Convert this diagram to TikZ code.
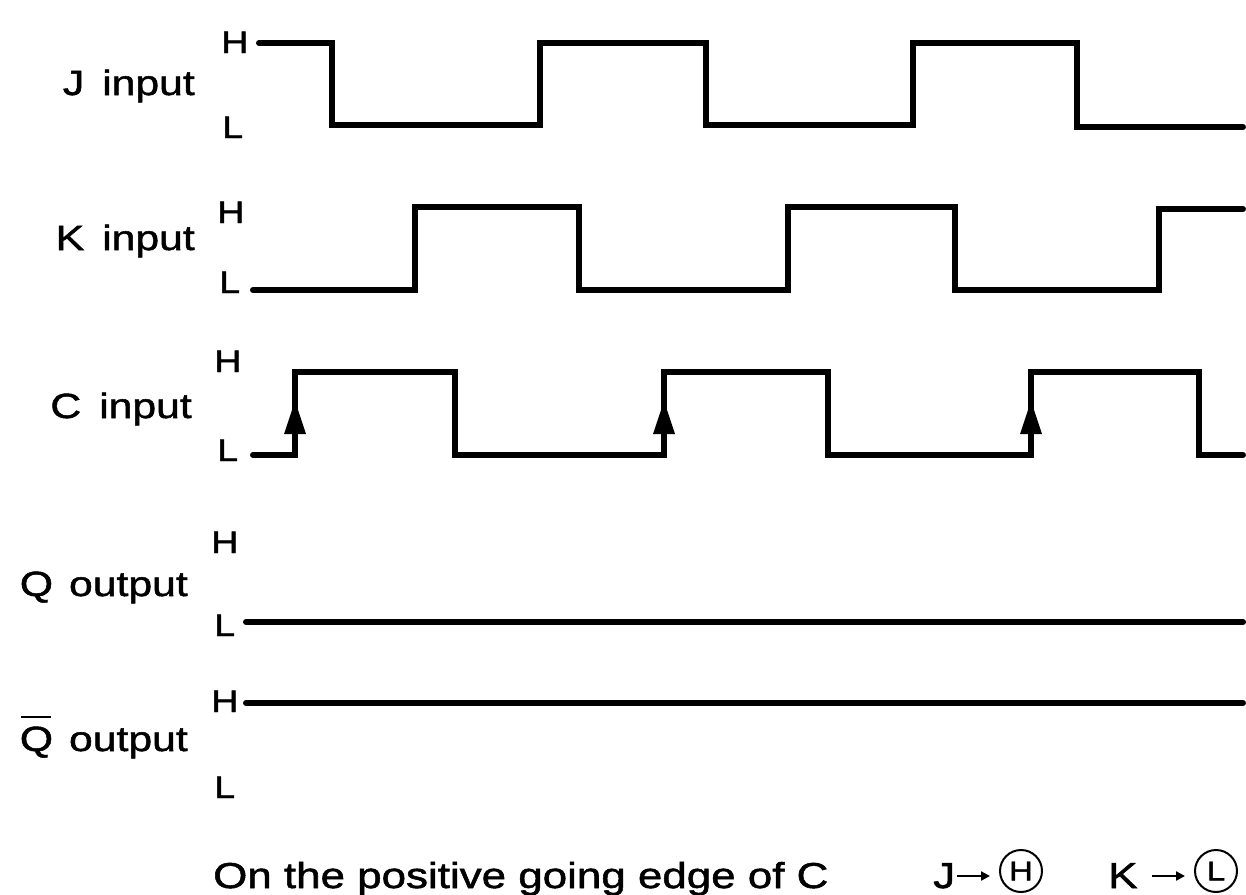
\documentclass[tikz,border=0pt]{standalone}
\usepackage{fontspec}
\setmainfont{Liberation Sans}[FakeStretch=1.22, FakeBold=1.5]
\usetikzlibrary{arrows.meta}
\begin{document}
\begin{tikzpicture}[x=1pt,y=-1pt,
  sig/.style={line width=6pt, line join=miter, line cap=round},
  lbl/.style={font=\fontsize{35}{36}\selectfont, anchor=base east, inner sep=0pt},
  lvl/.style={font=\fontsize{31}{32}\selectfont, anchor=base west, inner sep=0pt},
  edgetip/.style={fill=black},
  circled/.style={circle, draw, line width=2pt, minimum size=42pt, inner sep=0pt, font=\fontsize{27}{28}\selectfont},
  shortarrow/.style={line width=2.6pt, -{Triangle[length=9pt,width=9pt]}}]
\useasboundingbox (0,0) rectangle (1246,894);

% signal labels
\node[lbl] (jlab) at (195,95) {J\hspace{18pt}input};
\node[lbl] (klab) at (195,250) {K\hspace{18pt}input};
\node[lbl] (clab) at (192,418) {C\hspace{18pt}input};
\node[lbl] (qlab) at (188,596) {Q\hspace{16pt}output};
\node[lbl] (qblab) at (188,751) {\makebox[0pt][l]{\hspace{1pt}\rule[33pt]{30pt}{2.5pt}}Q\hspace{16pt}output};

% level labels
\node[lvl] (jh) at (221,53) {H};
\node[lvl] (jl) at (222,138) {L};
\node[lvl] (kh) at (217,223) {H};
\node[lvl] (kl) at (219,293) {L};
\node[lvl] (ch) at (214,372) {H};
\node[lvl] (cl) at (217,461) {L};
\node[lvl] (qh) at (211,553) {H};
\node[lvl] (ql) at (214,636) {L};
\node[lvl] (qbh) at (211,712) {H};
\node[lvl] (qbl) at (214,798) {L};

% J waveform
\draw[sig] (259,43) -- (332,43) -- (332,125) -- (540,125) -- (540,43) -- (706,43) -- (706,125)
  -- (913,125) -- (913,43) -- (1077,43) -- (1077,127) -- (1243,127);
% K waveform
\draw[sig] (253,290) -- (415,290) -- (415,207) -- (579,207) -- (579,290) -- (788,290) -- (788,207)
  -- (955,207) -- (955,290) -- (1159,290) -- (1159,209) -- (1243,209);
% C waveform
\draw[sig] (253,455) -- (295,455) -- (295,372) -- (455,372) -- (455,455) -- (664,455) -- (664,372)
  -- (828,372) -- (828,455) -- (1031,455) -- (1031,372) -- (1199,372) -- (1199,455) -- (1243,455);
% positive-edge arrows
\fill[edgetip] (295,401) -- (284,434) -- (306,434) -- cycle;
\fill[edgetip] (664,401) -- (653,434) -- (675,434) -- cycle;
\fill[edgetip] (1031,401) -- (1020,434) -- (1042,434) -- cycle;
% Q and Q-bar
\draw[sig] (246,622) -- (1243,622);
\draw[sig] (246,703) -- (1243,703);

% bottom note
\node[anchor=base west, inner sep=0pt, font=\fontsize{36}{36}\selectfont] (note) at (213,888) {On the positive going edge of C};
\node[anchor=base west, inner sep=0pt, font=\fontsize{36}{36}\selectfont] (jj) at (933,888) {J};
\coordinate (ja1) at (957,876);
\coordinate (ja2) at (990,876);
\draw[shortarrow] (ja1) -- (ja2);
\node[circled] (hc) at (1021,871) {H};
\node[anchor=base west, inner sep=0pt, font=\fontsize{36}{36}\selectfont] (kk) at (1108,888) {K};
\coordinate (ka1) at (1152,876);
\coordinate (ka2) at (1185,876);
\draw[shortarrow] (ka1) -- (ka2);
\node[circled] (lc) at (1216,871) {L};
\end{tikzpicture}
\end{document}
